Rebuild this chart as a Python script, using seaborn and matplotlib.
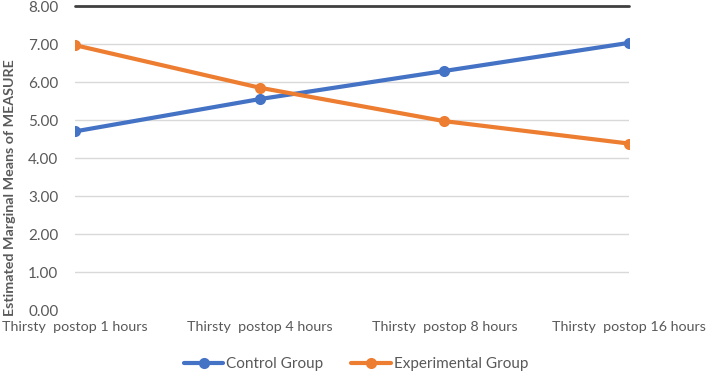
import matplotlib
matplotlib.use("Agg")
import matplotlib.pyplot as plt
import seaborn as sns
import pandas as pd

categories = ["Thirsty  postop 1 hours", "Thirsty  postop 4 hours",
              "Thirsty  postop 8 hours", "Thirsty  postop 16 hours"]
control = [4.70, 5.55, 6.29, 7.03]
experimental = [6.97, 5.85, 4.97, 4.38]
groups = ["Control Group", "Experimental Group"]
y_ticks = [0, 1, 2, 3, 4, 5, 6, 7, 8]

df = pd.DataFrame({
    "time": categories * 2,
    "value": control + experimental,
    "group": [groups[0]] * 4 + [groups[1]] * 4,
})

sns.set_style("white")
plt.rcParams["font.family"] = ["Lato", "DejaVu Sans"]

fig = plt.figure(figsize=(7.07, 3.73), dpi=100)
ax = fig.add_axes([75 / 707, 1 - 310 / 373, (629 - 75) / 707, (310 - 6) / 373])

palette = {groups[0]: "#4472C4", groups[1]: "#ED7D31"}
sns.lineplot(data=df, x="time", y="value", hue="group", palette=palette,
             marker="o", markersize=8, markeredgewidth=0, linewidth=3,
             sort=False, ax=ax, legend=False)

ax.set_xlim(0, 3)
ax.set_ylim(0, 8)
ax.set_yticks(y_ticks)
ax.set_yticklabels([f"{v:.2f}" for v in y_ticks], fontsize=11, color="#595959")
ax.tick_params(axis="y", length=0, pad=12)
for v in y_ticks[1:-1]:
    ax.axhline(v, color="#D9D9D9", linewidth=1, zorder=0)
ax.axhline(8, color="#404040", linewidth=2, zorder=0, clip_on=False)

for s in ax.spines.values():
    s.set_visible(False)

ax.set_xticks(range(len(categories)))
ax.set_xticklabels(categories, fontsize=10.3, color="#595959")
ax.tick_params(axis="x", length=0, pad=8)
ax.set_xlabel("")
ax.set_ylabel("")

fig.text(0.014, 1 - 188 / 373, "Estimated Marginal Means of MEASURE",
         rotation=90, ha="center", va="center", fontsize=10.3,
         fontweight="bold", color="#595959")

handles = [plt.Line2D([], [], color=palette[g], linewidth=3, marker="o",
                      markersize=8, markeredgewidth=0) for g in groups]
fig.legend(handles, groups, loc="center", bbox_to_anchor=(356 / 707, 1 - 364 / 373),
           ncol=2, frameon=False, fontsize=11, handlelength=2.6,
           handletextpad=0.2, columnspacing=1.8, labelcolor="#595959")

fig.savefig("out.png", dpi=100)
